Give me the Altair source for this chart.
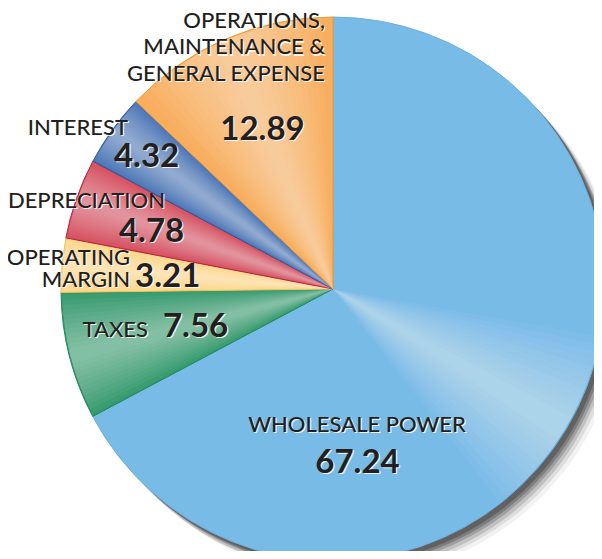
import altair as alt
import pandas as pd

# ---- data ----
categories = ["WHOLESALE POWER", "TAXES", "OPERATING MARGIN", "DEPRECIATION",
              "INTEREST", "OPERATIONS, MAINTENANCE & GENERAL EXPENSE"]
values = [67.24, 7.56, 3.21, 4.78, 4.32, 12.89]
value_labels = ["67.24", "7.56", "3.21", "4.78", "4.32", "12.89"]
name_labels = ["WHOLESALE POWER", "TAXES", "OPERATING\nMARGIN", "DEPRECIATION",
               "INTEREST", "OPERATIONS,\nMAINTENANCE &\nGENERAL EXPENSE"]

# ---- styles ----
fills = ["#79BBE7", "#34996C", "#FDD88A", "#D64E5F", "#4B76B6", "#F8AE5E"]
strokes = ["#6AB0E0", "#1F8A5C", "#F2C060", "#B8203F", "#2B5CA0", "#F29A30"]
W, H = 586, 543
CX, CY = 325, 281
R = 272
TEXT = "#231F20"
FONT = "Lato"

df = pd.DataFrame({
    "category": categories,
    "value": values,
    "order": list(range(len(categories))),
    "vlabel": value_labels,
    "nlabel": name_labels,
})

theta_scale = alt.Scale(domain=[0, 100])
base = alt.Chart(df)

# soft drop shadow
shadow_layers = []
for (ox, oy, op) in [(16, 16, 0.06), (13, 13, 0.10), (10, 11, 0.16), (8, 8, 0.22),
                     (6, 6, 0.28), (4, 4, 0.35)]:
    shadow_layers.append(
        base.mark_arc(radius=R, color="#2a2a2a", opacity=op).encode(
            theta=alt.Theta("value:Q", stack=True, scale=theta_scale),
            order=alt.Order("order:Q"),
            x=alt.value(CX + ox), y=alt.value(CY + oy),
        )
    )

pie = base.mark_arc(radius=R, strokeWidth=1).encode(
    theta=alt.Theta("value:Q", stack=True, scale=theta_scale),
    color=alt.Color("category:N", scale=alt.Scale(domain=categories, range=fills), legend=None),
    stroke=alt.Stroke("category:N", scale=alt.Scale(domain=categories, range=strokes), legend=None),
    order=alt.Order("order:Q"),
    x=alt.value(CX), y=alt.value(CY),
)

mid = base.transform_window(
    cum="sum(value)", sort=[alt.SortField("order")], frame=[None, 0]
).transform_calculate(mid="datum.cum - datum.value / 2")

# glossy sheen along each slice's middle (many faint wedges -> smooth)
sheen_layers = []
steps = 12
for k in range(steps):
    frac = 0.46 * (1 - k / steps) + 0.02
    cap = 5.5 * (1 - k / steps) + 0.3
    sheen_layers.append(
        mid.transform_calculate(
            hw=f"min(datum.value * {frac:.4f}, {cap:.4f})"
        ).transform_calculate(
            t1="datum.mid - datum.hw", t2="datum.mid + datum.hw"
        ).mark_arc(radius=R - 1, color="white", opacity=0.045).encode(
            theta=alt.Theta("t1:Q", stack=None, scale=theta_scale),
            theta2="t2:Q",
            x=alt.value(CX), y=alt.value(CY),
        )
    )

# label placement: (category, field, radius, dx, dy, align, size, weight, lineHeight)
label_specs = [
    (categories[5], "vlabel", 170, -3.5, 7.2, "center", 33, "bold", 0),
    (categories[5], "nlabel", 170, 59, -104.8, "right", 22, 500, 26.5),
    (categories[4], "vlabel", 225, -4, 9.6, "center", 33, "bold", 0),
    (categories[4], "nlabel", 225, -22.5, -22.4, "right", 22, 500, 0),
    (categories[3], "vlabel", 185, -7, 14.6, "center", 33, "bold", 0),
    (categories[3], "nlabel", 185, 6.5, -19.4, "right", 22, 500, 0),
    (categories[2], "vlabel", 185, -13.7, 14.3, "left", 33, "bold", 0),
    (categories[2], "nlabel", 185, -18.7, -7.7, "right", 22, 500, 22),
    (categories[1], "vlabel", 185, 9.2, 2.5, "left", 33, "bold", 0),
    (categories[1], "nlabel", 185, -5.8, 2.2, "right", 22, 500, 0),
    (categories[0], "vlabel", 120, -78.3, 121.8, "center", 33, "bold", 0),
    (categories[0], "nlabel", 120, -78.8, 81.1, "center", 22, 500, 0),
]

text_layers = []
for cat, field, rad, dx, dy, align, size, weight, lh in label_specs:
    for (ox, col, op) in [(1.2, "white", 0.85), (0, TEXT, 1)]:
        kw = dict(radius=rad, dx=dx + ox, dy=dy + ox, align=align, baseline="alphabetic",
                  font=FONT, fontSize=size, fontWeight=weight, color=col, opacity=op,
                  lineBreak="\n")
        if lh:
            kw["lineHeight"] = lh
        text_layers.append(
            mid.transform_filter(alt.datum.category == cat).mark_text(**kw).encode(
                theta=alt.Theta("mid:Q", stack=None, scale=theta_scale),
                text=alt.Text(f"{field}:N"),
                x=alt.value(CX), y=alt.value(CY),
            )
        )

chart = alt.layer(*shadow_layers, pie, *sheen_layers, *text_layers).properties(
    width=W, height=H, padding=0, autosize=alt.AutoSizeParams(type="none"),
    background="white",
).configure_view(stroke=None)

chart.save("out.html", embed_options={"renderer": "svg", "actions": False})
